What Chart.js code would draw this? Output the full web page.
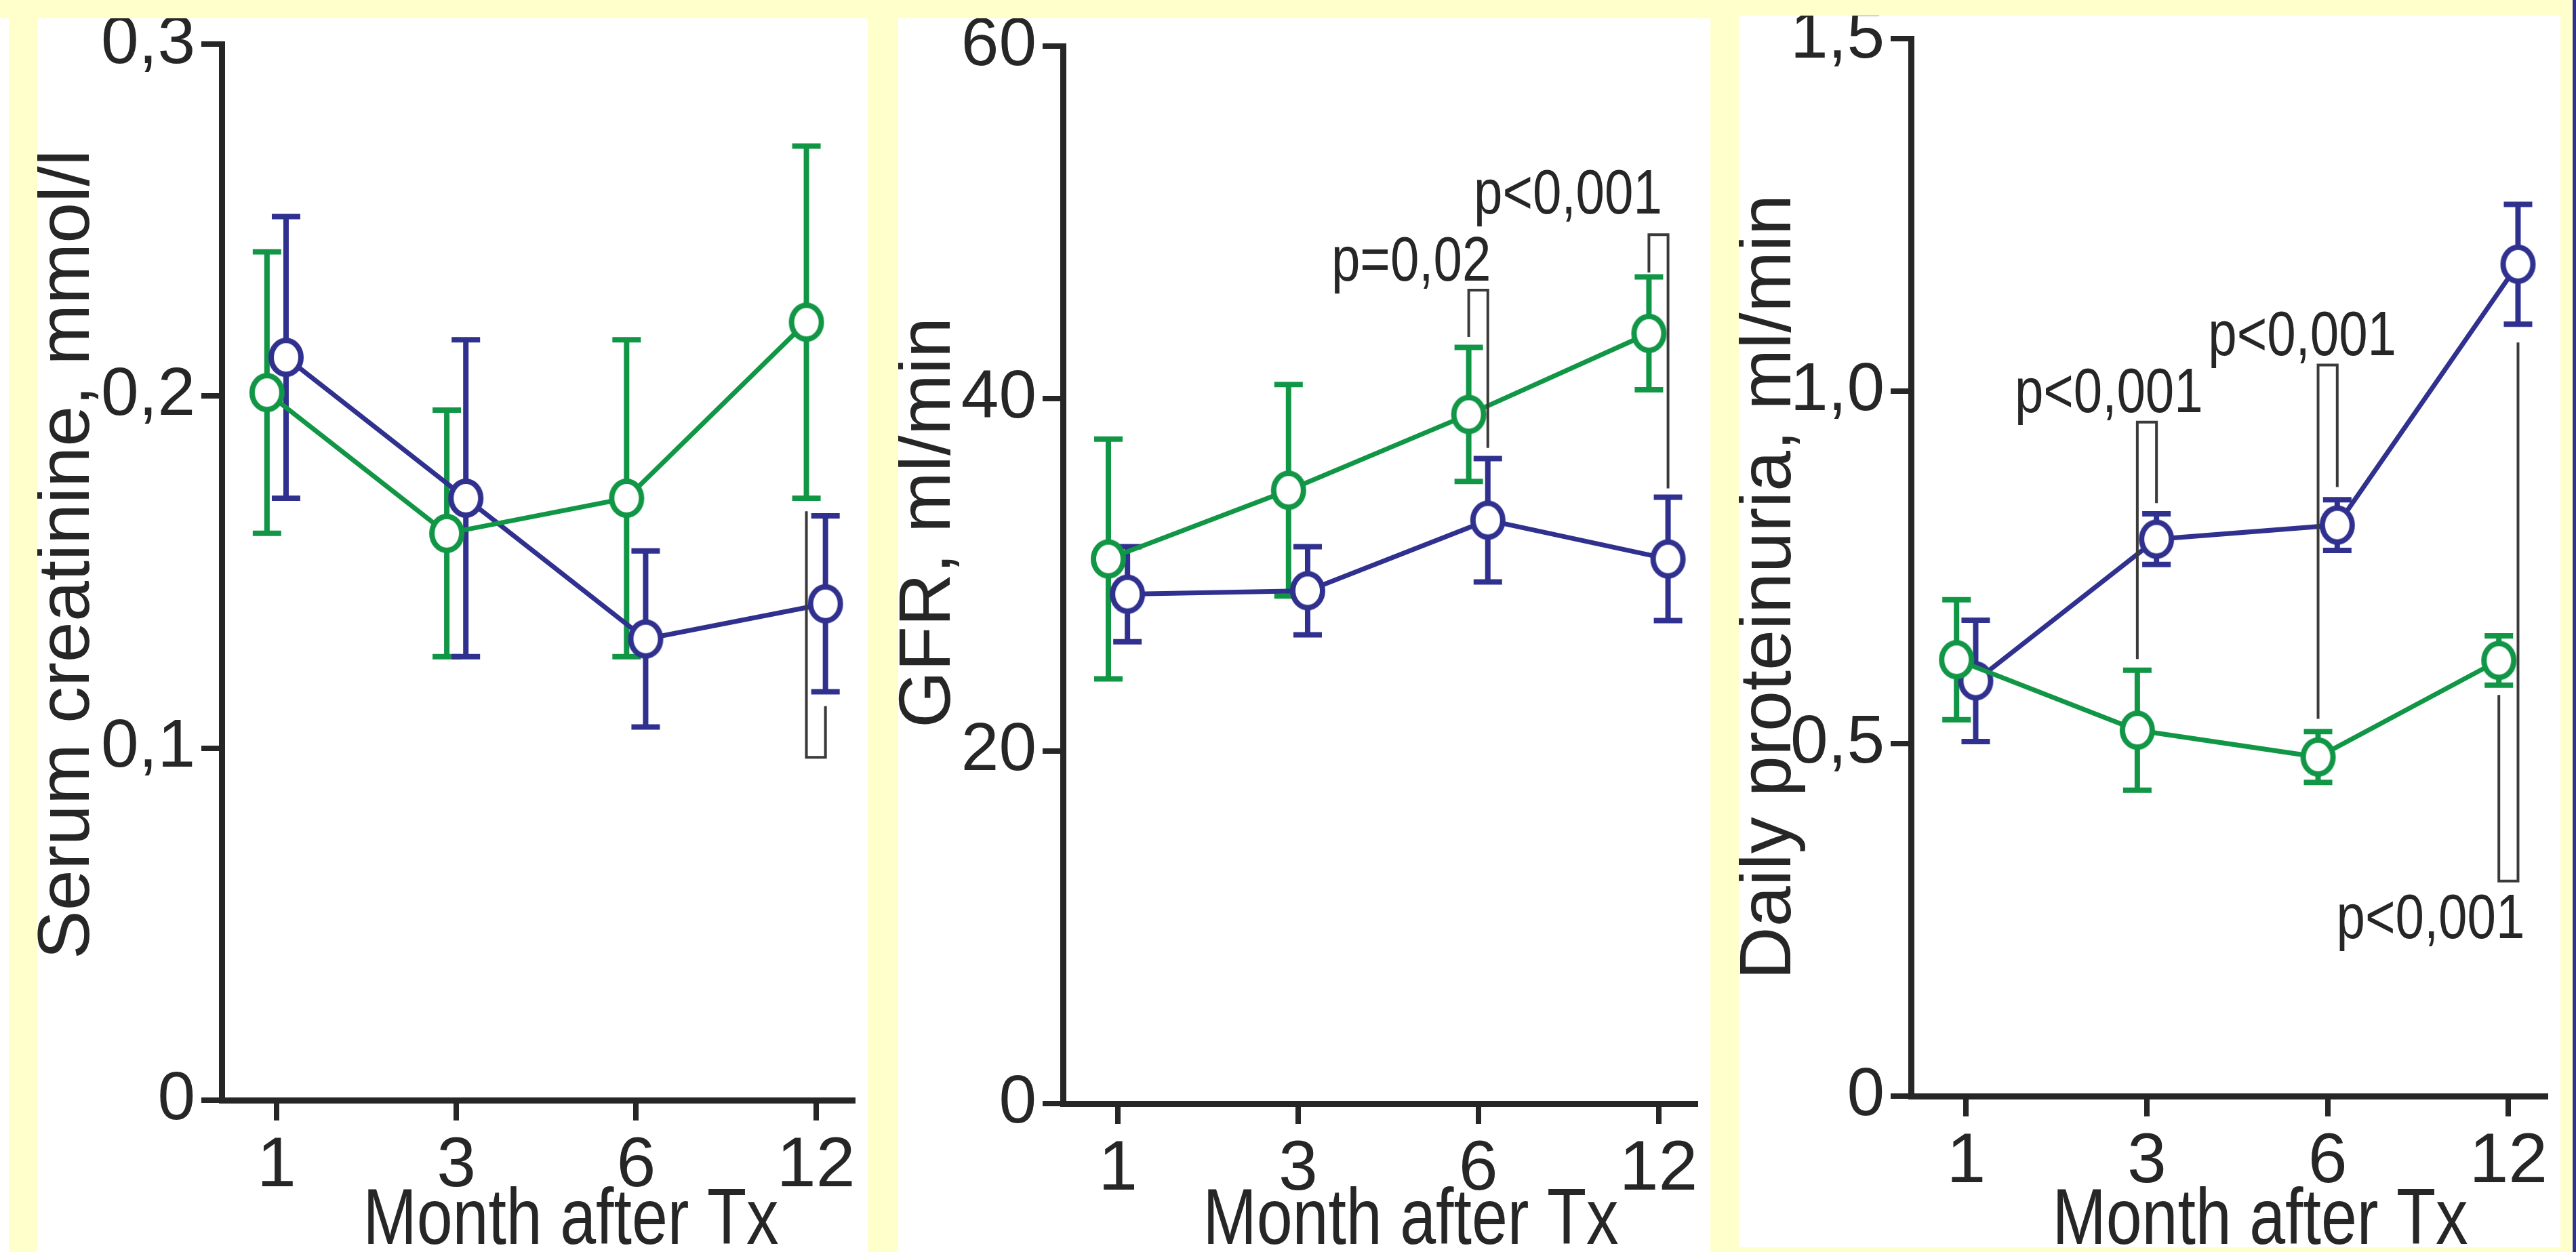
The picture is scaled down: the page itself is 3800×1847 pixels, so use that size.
<!DOCTYPE html>
<html>
<head>
<meta charset="utf-8">
<script src="https://cdn.jsdelivr.net/npm/chart.js@4.4.1/dist/chart.umd.min.js"></script>
<style>
  html, body { margin: 0; padding: 0; background: #ffffcc; overflow: hidden; }
  body { width: 3800px; height: 1847px; position: relative; }
  .panel { position: absolute; background: #fff; }
  .panel canvas { position: absolute; left: 0; top: 0; }
  #strip { position: absolute; left: 0; top: 27px; width: 13px; height: 1820px; background: #fff; }
  #edge { position: absolute; left: 3795px; top: 0; width: 5px; height: 1847px; background: #2e3192; }
</style>
</head>
<body>
<div id="strip"></div>
<div class="panel" style="left:55px;top:27px;width:1225px;height:1820px"><canvas id="chartCreat" width="1225" height="1820"></canvas></div>
<div class="panel" style="left:1325px;top:27px;width:1198px;height:1820px"><canvas id="chartGFR" width="1198" height="1820"></canvas></div>
<div class="panel" style="left:2565px;top:23px;width:1212px;height:1817px"><canvas id="chartProt" width="1212" height="1817"></canvas></div>
<div id="edge"></div>

<script>
// ===== Datos =====
const MONTHS = ['1', '3', '6', '12'];

// Serum creatinine, mmol/l
const creatGreen    = [0.201, 0.161, 0.171, 0.221];
const creatGreenErr = [0.040, 0.035, 0.045, 0.050];
const creatBlue     = [0.211, 0.171, 0.131, 0.141];
const creatBlueErr  = [0.040, 0.045, 0.025, 0.025];
const creatTicks      = [0, 0.1, 0.2, 0.3];
const creatTickLabels = ['0', '0,1', '0,2', '0,3'];
// [month index, bar level, green leg end, blue leg end]
const creatBrackets = [[3, 0.0974, 0.1673, 0.1119]];
// [text, right edge (month index), baseline]
const creatPText = [];

// GFR, ml/min
const gfrGreen    = [30.9, 34.8, 39.1, 43.7];
const gfrGreenErr = [6.8, 6.0, 3.8, 3.2];
const gfrBlue     = [28.9, 29.1, 33.1, 30.9];
const gfrBlueErr  = [2.7, 2.5, 3.5, 3.5];
const gfrTicks      = [0, 20, 40, 60];
const gfrTickLabels = ['0', '20', '40', '60'];
const gfrBrackets = [[2, 46.15, 43.5, 37.2], [3, 49.3, 47.15, 34.9]];
const gfrPText = [['p=0,02', 2.07, 46.7], ['p<0,001', 3.02, 50.5]];

// Daily proteinuria, ml/min
const protGreen    = [0.619, 0.519, 0.481, 0.618];
const protGreenErr = [0.085, 0.085, 0.036, 0.035];
const protBlue     = [0.589, 0.790, 0.810, 1.180];
const protBlueErr  = [0.086, 0.036, 0.036, 0.085];
const protTicks      = [0, 0.5, 1.0, 1.5];
const protTickLabels = ['0', '0,5', '1,0', '1,5'];
const protBrackets = [[1, 0.956, 0.620, 0.841], [2, 1.037, 0.535, 0.864], [3, 0.305, 0.569, 1.069]];
const protPText = [['p<0,001', 1.31, 0.970], ['p<0,001', 2.38, 1.051], ['p<0,001', 3.09, 0.224]];

// ===== Estilo =====
const GREEN = '#119646';
const BLUE = '#30318f';
const INK = '#262626';
const FONT = '"Liberation Sans", Arial, sans-serif';
const SQUEEZE = 0.82; // the original lettering is a narrow sans
const OFF = 0.053;    // horizontal shift of the two groups around each month

function marker(color){
  const c = document.createElement('canvas');
  c.width = 60; c.height = 66;
  const g = c.getContext('2d');
  g.beginPath();
  g.ellipse(30, 33, 22, 25, 0, 0, Math.PI * 2);
  g.fillStyle = '#fff';
  g.fill();
  g.lineWidth = 8;
  g.strokeStyle = color;
  g.stroke();
  return c;
}
const greenMark = marker(GREEN);
const blueMark = marker(BLUE);

const toXY = (vals, dx) => vals.map((v, i) => ({ x: i + dx, y: v }));

function narrowText(ctx, txt, x, y, align){
  ctx.save();
  ctx.translate(x, y);
  ctx.scale(SQUEEZE, 1);
  ctx.textAlign = align;
  ctx.fillText(txt, 0, 0);
  ctx.restore();
}

// error bars go under the lines and circles
const errorBars = {
  id: 'errorBars',
  beforeDatasetsDraw(chart){
    const { ctx } = chart;
    const xs = chart.scales.x, ys = chart.scales.y;
    chart.data.datasets.forEach(ds => {
      ctx.save();
      ctx.strokeStyle = ds.borderColor;
      ctx.lineWidth = 8;
      ds.data.forEach((p, i) => {
        const e = ds.errors[i];
        const px = xs.getPixelForValue(p.x);
        const top = ys.getPixelForValue(p.y + e);
        const bot = ys.getPixelForValue(p.y - e);
        ctx.beginPath();
        ctx.moveTo(px, top); ctx.lineTo(px, bot);
        ctx.moveTo(px - 21, top); ctx.lineTo(px + 21, top);
        ctx.moveTo(px - 21, bot); ctx.lineTo(px + 21, bot);
        ctx.stroke();
      });
      ctx.restore();
    });
  }
};

// brackets + p values, then the axis titles
function makeNotes(brackets, ptext, t){
  return {
    id: 'notes',
    afterDraw(chart){
      const { ctx } = chart;
      const xs = chart.scales.x, ys = chart.scales.y;
      ctx.save();
      ctx.strokeStyle = '#3a3a3a';
      ctx.lineWidth = 4;
      brackets.forEach(([m, bar, g, b]) => {
        const gx = xs.getPixelForValue(m - OFF), bx = xs.getPixelForValue(m + OFF);
        ctx.beginPath();
        ctx.moveTo(gx, ys.getPixelForValue(g));
        ctx.lineTo(gx, ys.getPixelForValue(bar));
        ctx.lineTo(bx, ys.getPixelForValue(bar));
        ctx.lineTo(bx, ys.getPixelForValue(b));
        ctx.stroke();
      });
      ctx.fillStyle = INK;
      ctx.textBaseline = 'alphabetic';
      ctx.font = '93px ' + FONT;
      ptext.forEach(([txt, x, y]) => narrowText(ctx, txt, xs.getPixelForValue(x), ys.getPixelForValue(y), 'right'));

      // titulos de ejes
      ctx.font = '116px ' + FONT;
      narrowText(ctx, t.x, t.xc, t.xb, 'center');
      ctx.font = '108px ' + FONT;
      ctx.textAlign = 'center';
      ctx.translate(t.yb, t.yc);
      ctx.rotate(-Math.PI / 2);
      ctx.fillText(t.y, 0, 0);
      ctx.restore();
    }
  };
}

function buildChart(id, cfg){
  const el = document.getElementById(id);
  const axisLine = { display: true, width: 9, color: INK };
  const grid = { drawOnChartArea: false, drawTicks: true, tickLength: 30, lineWidth: 8, tickWidth: 8, tickColor: INK };
  return new Chart(el, {
    type: 'line',
    data: {
      datasets: [
        { data: toXY(cfg.green, -OFF), errors: cfg.greenErr, borderColor: GREEN, pointStyle: greenMark },
        { data: toXY(cfg.blue, OFF), errors: cfg.blueErr, borderColor: BLUE, pointStyle: blueMark }
      ]
    },
    options: {
      responsive: false,
      animation: false,
      events: [],
      layout: { padding: { top: cfg.padTop, right: cfg.padRight, left: 0, bottom: 0 } },
      elements: {
        line: { borderWidth: 7, tension: 0, fill: false },
        point: { radius: 22, borderWidth: 0 }
      },
      plugins: { legend: { display: false }, tooltip: { enabled: false } },
      scales: {
        x: {
          type: 'linear', min: -0.305, max: 3.205, bounds: 'data',
          afterBuildTicks: s => { s.ticks = MONTHS.map((m, i) => ({ value: i })); },
          afterFit: s => { s.height = cfg.xH; },
          ticks: {
            callback: v => MONTHS[Math.round(v)],
            font: { family: FONT, size: 104, lineHeight: 1.2 },
            color: INK, padding: 6, maxRotation: 0
          },
          grid, border: axisLine
        },
        y: {
          min: cfg.ticks[0], max: cfg.ticks[cfg.ticks.length - 1],
          afterBuildTicks: s => { s.ticks = cfg.ticks.map(v => ({ value: v })); },
          afterFit: s => { s.width = cfg.yW; },
          ticks: {
            callback: (v, i) => cfg.labels[i],
            font: { family: FONT, size: 100, lineHeight: 0.5 },
            color: INK, padding: 9
          },
          grid, border: axisLine
        }
      }
    },
    plugins: [errorBars, makeNotes(cfg.brackets, cfg.ptext, cfg.titles)]
  });
}

buildChart('chartCreat', {
  green: creatGreen, greenErr: creatGreenErr, blue: creatBlue, blueErr: creatBlueErr,
  ticks: creatTicks, labels: creatTickLabels, brackets: creatBrackets, ptext: creatPText,
  yW: 272, xH: 224, padTop: 38, padRight: 2,
  titles: { x: 'Month after Tx', xc: 787, xb: 1808, y: 'Serum creatinine, mmol/l', yb: 76, yc: 791 }
});
buildChart('chartGFR', {
  green: gfrGreen, greenErr: gfrGreenErr, blue: gfrBlue, blueErr: gfrBlueErr,
  ticks: gfrTicks, labels: gfrTickLabels, brackets: gfrBrackets, ptext: gfrPText,
  yW: 243, xH: 219, padTop: 41, padRight: 4,
  titles: { x: 'Month after Tx', xc: 756, xb: 1808, y: 'GFR, ml/min', yb: 76, yc: 744 }
});
buildChart('chartProt', {
  green: protGreen, greenErr: protGreenErr, blue: protBlue, blueErr: protBlueErr,
  ticks: protTicks, labels: protTickLabels, brackets: protBrackets, ptext: protPText,
  yW: 254, xH: 223, padTop: 32, padRight: 5,
  titles: { x: 'Month after Tx', xc: 769, xb: 1812, y: 'Daily proteinuria, ml/min', yb: 76, yc: 843 }
});
</script>
</body>
</html>
